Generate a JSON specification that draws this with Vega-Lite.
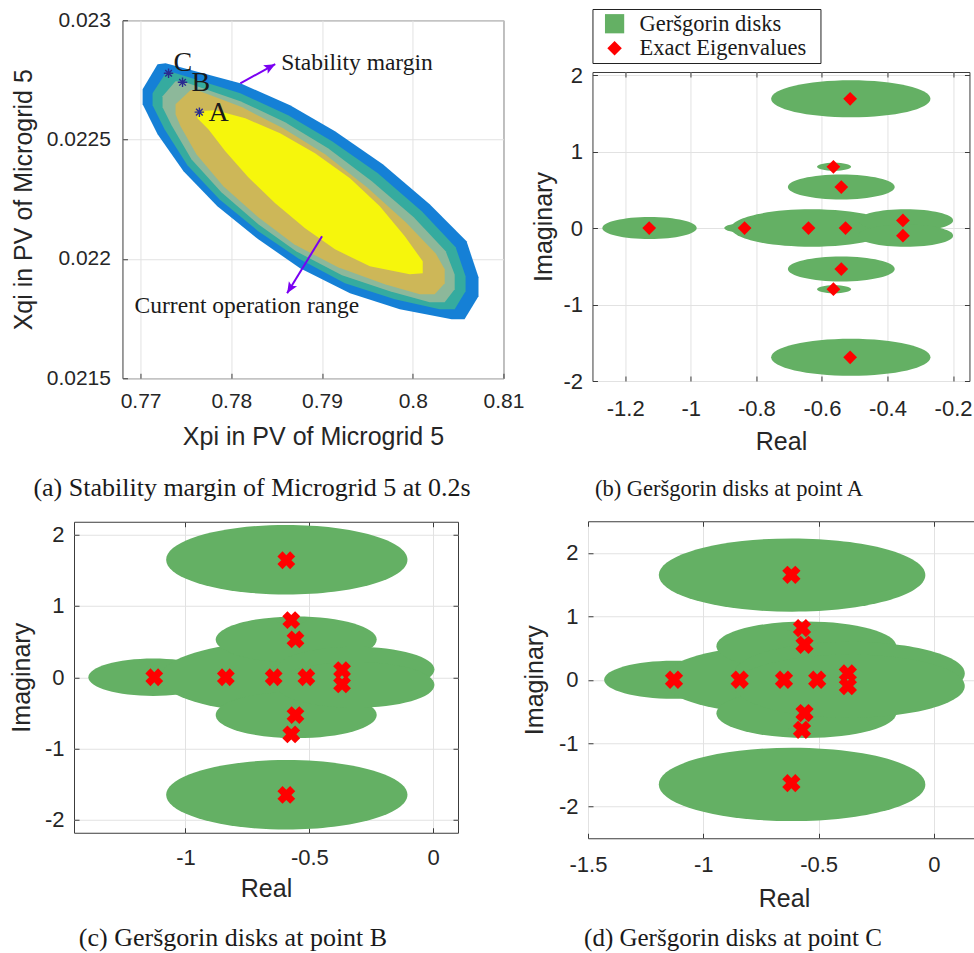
{
  "$schema": "https://vega.github.io/schema/vega-lite/v6.json",
  "padding": {"left": 8, "top": 8, "right": 0, "bottom": 0},
  "background": "white",
  "center": true,
  "spacing": 7,
  "resolve": {"scale": {"color": "independent", "size": "independent", "shape": "independent"}, "legend": {"color": "independent", "size": "independent", "shape": "independent"}},
  "config": {
    "font": "Liberation Sans",
    "view": {"stroke": "#3c3c3c", "strokeWidth": 1},
    "axis": {
      "domain": false, "grid": true, "gridColor": "#e2e2e2", "gridWidth": 1,
      "ticks": true, "tickColor": "#3c3c3c", "tickSize": -5,
      "labelFont": "Liberation Sans", "labelFontSize": 21, "labelColor": "#262626",
      "labelFlush": false, "labelOverlap": false,
      "titleFont": "Liberation Sans", "titleFontSize": 25, "titleFontWeight": "normal", "titleColor": "#262626"
    },
    "title": {"font": "Liberation Serif", "fontWeight": "normal", "color": "#1a1a1a", "orient": "bottom", "anchor": "middle"}
  },
  "vconcat": [
    {
      "center": true,
      "spacing": 6,
      "resolve": {"scale": {"color": "independent", "size": "independent", "shape": "independent"}, "legend": {"color": "independent", "size": "independent", "shape": "independent"}},
      "hconcat": [
        {
          "width": 381, "height": 358,
          "title": {"text": "(a) Stability margin of Microgrid 5 at 0.2s", "dx": -61, "offset": 26, "fontSize": 26},
          "resolve": {"axis": {"x": "independent", "y": "independent"}},
          "layer": [
            {
              "data": {"values": [
                {"region":"r1","i":1,"x":0.77022,"y":0.022711},{"region":"r1","i":2,"x":0.77187,"y":0.022816},{"region":"r1","i":3,"x":0.77275,"y":0.02282},{"region":"r1","i":4,"x":0.78099,"y":0.022736},{"region":"r1","i":5,"x":0.78648,"y":0.022644},{"region":"r1","i":6,"x":0.79143,"y":0.022535},{"region":"r1","i":7,"x":0.7967,"y":0.022397},{"region":"r1","i":8,"x":0.80187,"y":0.022229},{"region":"r1","i":9,"x":0.80593,"y":0.022074},{"region":"r1","i":10,"x":0.80725,"y":0.021923},{"region":"r1","i":11,"x":0.80725,"y":0.021844},{"region":"r1","i":12,"x":0.80571,"y":0.021747},{"region":"r1","i":13,"x":0.80429,"y":0.021747},{"region":"r1","i":14,"x":0.79857,"y":0.021789},{"region":"r1","i":15,"x":0.79308,"y":0.021856},{"region":"r1","i":16,"x":0.78758,"y":0.021961},{"region":"r1","i":17,"x":0.78297,"y":0.022082},{"region":"r1","i":18,"x":0.77846,"y":0.022221},{"region":"r1","i":19,"x":0.77473,"y":0.022367},{"region":"r1","i":20,"x":0.77187,"y":0.022522},{"region":"r1","i":21,"x":0.77022,"y":0.022648},
                {"region":"r2","i":1,"x":0.77132,"y":0.022694},{"region":"r2","i":2,"x":0.77275,"y":0.022778},{"region":"r2","i":3,"x":0.77352,"y":0.022782},{"region":"r2","i":4,"x":0.78099,"y":0.022694},{"region":"r2","i":5,"x":0.78626,"y":0.022602},{"region":"r2","i":6,"x":0.7911,"y":0.022493},{"region":"r2","i":7,"x":0.79615,"y":0.022359},{"region":"r2","i":8,"x":0.80099,"y":0.0222},{"region":"r2","i":9,"x":0.80473,"y":0.022049},{"region":"r2","i":10,"x":0.80582,"y":0.021927},{"region":"r2","i":11,"x":0.80582,"y":0.021865},{"region":"r2","i":12,"x":0.80462,"y":0.021789},{"region":"r2","i":13,"x":0.80297,"y":0.021789},{"region":"r2","i":14,"x":0.79802,"y":0.021831},{"region":"r2","i":15,"x":0.79253,"y":0.021898},{"region":"r2","i":16,"x":0.78736,"y":0.022003},{"region":"r2","i":17,"x":0.78297,"y":0.022116},{"region":"r2","i":18,"x":0.77868,"y":0.02225},{"region":"r2","i":19,"x":0.77516,"y":0.022392},{"region":"r2","i":20,"x":0.77264,"y":0.022543},{"region":"r2","i":21,"x":0.77132,"y":0.022644},
                {"region":"r3","i":1,"x":0.77242,"y":0.022682},{"region":"r3","i":2,"x":0.77385,"y":0.022744},{"region":"r3","i":3,"x":0.77462,"y":0.022744},{"region":"r3","i":4,"x":0.78099,"y":0.022661},{"region":"r3","i":5,"x":0.78593,"y":0.022573},{"region":"r3","i":6,"x":0.79066,"y":0.022464},{"region":"r3","i":7,"x":0.79549,"y":0.022325},{"region":"r3","i":8,"x":0.80011,"y":0.022175},{"region":"r3","i":9,"x":0.80363,"y":0.022032},{"region":"r3","i":10,"x":0.80462,"y":0.021935},{"region":"r3","i":11,"x":0.80462,"y":0.021873},{"region":"r3","i":12,"x":0.80352,"y":0.021818},{"region":"r3","i":13,"x":0.80187,"y":0.021818},{"region":"r3","i":14,"x":0.79747,"y":0.021865},{"region":"r3","i":15,"x":0.7922,"y":0.021932},{"region":"r3","i":16,"x":0.78714,"y":0.022032},{"region":"r3","i":17,"x":0.78297,"y":0.022145},{"region":"r3","i":18,"x":0.7789,"y":0.022279},{"region":"r3","i":19,"x":0.7756,"y":0.022418},{"region":"r3","i":20,"x":0.77341,"y":0.02256},{"region":"r3","i":21,"x":0.77242,"y":0.022635},
                {"region":"r4","i":1,"x":0.77385,"y":0.022648},{"region":"r4","i":2,"x":0.77549,"y":0.022707},{"region":"r4","i":3,"x":0.77626,"y":0.022707},{"region":"r4","i":4,"x":0.78121,"y":0.022635},{"region":"r4","i":5,"x":0.78571,"y":0.022547},{"region":"r4","i":6,"x":0.79033,"y":0.022439},{"region":"r4","i":7,"x":0.79495,"y":0.0223},{"region":"r4","i":8,"x":0.79923,"y":0.022154},{"region":"r4","i":9,"x":0.80253,"y":0.022023},{"region":"r4","i":10,"x":0.80352,"y":0.021957},{"region":"r4","i":11,"x":0.80352,"y":0.021898},{"region":"r4","i":12,"x":0.80242,"y":0.021852},{"region":"r4","i":13,"x":0.80077,"y":0.021852},{"region":"r4","i":14,"x":0.79692,"y":0.021894},{"region":"r4","i":15,"x":0.79176,"y":0.021965},{"region":"r4","i":16,"x":0.78692,"y":0.022061},{"region":"r4","i":17,"x":0.78297,"y":0.022175},{"region":"r4","i":18,"x":0.77912,"y":0.022304},{"region":"r4","i":19,"x":0.77615,"y":0.022439},{"region":"r4","i":20,"x":0.7744,"y":0.022556},{"region":"r4","i":21,"x":0.77385,"y":0.022606},
                {"region":"r5","i":1,"x":0.77626,"y":0.022589},{"region":"r5","i":2,"x":0.77626,"y":0.022619},{"region":"r5","i":3,"x":0.77824,"y":0.022623},{"region":"r5","i":4,"x":0.78154,"y":0.022589},{"region":"r5","i":5,"x":0.78538,"y":0.022527},{"region":"r5","i":6,"x":0.78923,"y":0.022443},{"region":"r5","i":7,"x":0.79308,"y":0.022338},{"region":"r5","i":8,"x":0.79637,"y":0.022221},{"region":"r5","i":9,"x":0.79912,"y":0.022095},{"region":"r5","i":10,"x":0.8011,"y":0.02199},{"region":"r5","i":11,"x":0.8011,"y":0.02194},{"region":"r5","i":12,"x":0.79967,"y":0.021936},{"region":"r5","i":13,"x":0.79527,"y":0.021969},{"region":"r5","i":14,"x":0.79143,"y":0.02204},{"region":"r5","i":15,"x":0.78813,"y":0.022128},{"region":"r5","i":16,"x":0.78484,"y":0.022233},{"region":"r5","i":17,"x":0.78187,"y":0.022342},{"region":"r5","i":18,"x":0.77934,"y":0.022451},{"region":"r5","i":19,"x":0.77747,"y":0.022543}
              ]},
              "mark": {"type": "line", "filled": true, "interpolate": "linear-closed", "strokeWidth": 0},
              "encoding": {
                "x": {"field": "x", "type": "quantitative", "scale": {"domain": [0.768, 0.81], "nice": false, "zero": false},
                      "axis": {"title": "Xpi in PV of Microgrid 5", "values": [0.77, 0.78, 0.79, 0.8, 0.81], "format": "~g", "labelPadding": 17, "titlePadding": 13}},
                "y": {"field": "y", "type": "quantitative", "scale": {"domain": [0.0215, 0.023], "nice": false, "zero": false},
                      "axis": {"title": "Xqi in PV of Microgrid 5", "values": [0.0215, 0.022, 0.0225, 0.023], "format": "~g", "labelPadding": 17, "titlePadding": 10}},
                "color": {"field": "region", "type": "nominal", "scale": {"domain": ["r1","r2","r3","r4","r5"], "range": ["#1580d6","#35ab9f","#8db89a","#cdb758","#f6f60c"]}, "legend": null},
                "order": {"field": "i", "type": "quantitative"}
              }
            },
            {
              "data": {"values": [
                {"name":"stab","x":0.78099,"y":0.022736,"x2":0.78484,"y2":0.022816},
                {"name":"curr","x":0.79,"y":0.022095,"x2":0.78615,"y2":0.021856}
              ]},
              "layer": [
                {
                  "mark": {"type": "rule", "color": "#7a00f2", "strokeWidth": 2},
                  "encoding": {
                    "x": {"field": "x", "type": "quantitative", "scale": {"domain": [0.768, 0.81], "nice": false, "zero": false}, "axis": null},
                    "y": {"field": "y", "type": "quantitative", "scale": {"domain": [0.0215, 0.023], "nice": false, "zero": false}, "axis": null},
                    "x2": {"field": "x2"},
                    "y2": {"field": "y2"}
                  }
                },
                {
                  "transform": [{"filter": "datum.name === 'stab'"}],
                  "mark": {"type": "point", "shape": "M0,0L0.6,1.4L0,1.1L-0.6,1.4Z", "filled": true, "opacity": 1, "color": "#7a00f2", "size": 256, "angle": 61.3, "strokeWidth": 0},
                  "encoding": {
                    "x": {"field": "x2", "type": "quantitative", "scale": {"domain": [0.768, 0.81], "nice": false, "zero": false}, "axis": null},
                    "y": {"field": "y2", "type": "quantitative", "scale": {"domain": [0.0215, 0.023], "nice": false, "zero": false}, "axis": null}
                  }
                },
                {
                  "transform": [{"filter": "datum.name === 'curr'"}],
                  "mark": {"type": "point", "shape": "M0,0L0.6,1.4L0,1.1L-0.6,1.4Z", "filled": true, "opacity": 1, "color": "#7a00f2", "size": 256, "angle": 211.5, "strokeWidth": 0},
                  "encoding": {
                    "x": {"field": "x2", "type": "quantitative", "scale": {"domain": [0.768, 0.81], "nice": false, "zero": false}, "axis": null},
                    "y": {"field": "y2", "type": "quantitative", "scale": {"domain": [0.0215, 0.023], "nice": false, "zero": false}, "axis": null}
                  }
                }
              ]
            },
            {
              "data": {"values": [
                {"label":"Stability margin","x":0.78549,"y":0.02282},
                {"label":"Current operation range","x":0.76934,"y":0.021802}
              ]},
              "mark": {"type": "text", "font": "Liberation Serif", "fontSize": 23.5, "align": "left", "baseline": "middle", "color": "#1a1a1a"},
              "encoding": {
                "x": {"field": "x", "type": "quantitative", "scale": {"domain": [0.768, 0.81], "nice": false, "zero": false}, "axis": null},
                "y": {"field": "y", "type": "quantitative", "scale": {"domain": [0.0215, 0.023], "nice": false, "zero": false}, "axis": null},
                "text": {"field": "label"}
              }
            },
            {
              "data": {"values": [
                {"pt":"C","x":0.77308,"y":0.022778},
                {"pt":"B","x":0.77462,"y":0.02274},
                {"pt":"A","x":0.77648,"y":0.022615}
              ]},
              "layer": [
                {
                  "mark": {"type": "point", "shape": "M0,-1L0,1M-1,0L1,0M-0.7,-0.7L0.7,0.7M-0.7,0.7L0.7,-0.7", "filled": false, "opacity": 1, "color": "#2a2a90", "strokeWidth": 1.4, "size": 90},
                  "encoding": {
                    "x": {"field": "x", "type": "quantitative", "scale": {"domain": [0.768, 0.81], "nice": false, "zero": false},
                          "axis": {"orient": "top", "labels": false, "title": null, "grid": false, "ticks": true, "tickSize": -5, "domain": false, "values": [0.77, 0.78, 0.79, 0.8, 0.81]}},
                    "y": {"field": "y", "type": "quantitative", "scale": {"domain": [0.0215, 0.023], "nice": false, "zero": false},
                          "axis": {"orient": "right", "labels": false, "title": null, "grid": false, "ticks": true, "tickSize": -5, "domain": false, "values": [0.0215, 0.022, 0.0225, 0.023]}}
                  }
                },
                {
                  "transform": [{"filter": "datum.pt !== 'C'"}],
                  "mark": {"type": "text", "font": "Liberation Serif", "fontSize": 28, "align": "left", "baseline": "middle", "dx": 9, "dy": 1, "color": "#1a1a1a"},
                  "encoding": {
                    "x": {"field": "x", "type": "quantitative", "scale": {"domain": [0.768, 0.81], "nice": false, "zero": false}, "axis": null},
                    "y": {"field": "y", "type": "quantitative", "scale": {"domain": [0.0215, 0.023], "nice": false, "zero": false}, "axis": null},
                    "text": {"field": "pt"}
                  }
                },
                {
                  "transform": [{"filter": "datum.pt === 'C'"}],
                  "mark": {"type": "text", "font": "Liberation Serif", "fontSize": 28, "align": "left", "baseline": "middle", "dx": 5, "dy": -10, "color": "#1a1a1a"},
                  "encoding": {
                    "x": {"field": "x", "type": "quantitative", "scale": {"domain": [0.768, 0.81], "nice": false, "zero": false}, "axis": null},
                    "y": {"field": "y", "type": "quantitative", "scale": {"domain": [0.0215, 0.023], "nice": false, "zero": false}, "axis": null},
                    "text": {"field": "pt"}
                  }
                }
              ]
            }
          ]
        },
        {
          "spacing": -1,
          "resolve": {"scale": {"color": "independent", "size": "independent", "shape": "independent"}, "legend": {"color": "independent", "size": "independent", "shape": "independent"}},
          "vconcat": [
            {
              "width": 228, "height": 54,
              "view": {"stroke": "#222222", "strokeWidth": 1},
              "data": {"values": [{"item": "Geršgorin disks"}, {"item": "Exact Eigenvalues"}]},
              "layer": [
                {
                  "transform": [{"filter": "datum.item === 'Geršgorin disks'"}],
                  "mark": {"type": "point", "shape": "square", "filled": true, "opacity": 1, "strokeWidth": 0, "size": 370, "color": "#64b064"},
                  "encoding": {
                    "x": {"datum": 0.97, "type": "quantitative", "scale": {"domain": [0, 10], "nice": false, "zero": false}, "axis": null},
                    "y": {"field": "item", "type": "nominal", "sort": ["Geršgorin disks", "Exact Eigenvalues"], "scale": {"type": "point", "padding": 0.6, "domain": ["Geršgorin disks", "Exact Eigenvalues"]}, "axis": null}
                  }
                },
                {
                  "transform": [{"filter": "datum.item === 'Exact Eigenvalues'"}],
                  "mark": {"type": "point", "shape": "diamond", "filled": true, "opacity": 1, "strokeWidth": 0, "size": 210, "color": "#ff0000"},
                  "encoding": {
                    "x": {"datum": 0.97, "type": "quantitative", "scale": {"domain": [0, 10], "nice": false, "zero": false}, "axis": null},
                    "y": {"field": "item", "type": "nominal", "sort": ["Geršgorin disks", "Exact Eigenvalues"], "scale": {"type": "point", "padding": 0.6, "domain": ["Geršgorin disks", "Exact Eigenvalues"]}, "axis": null}
                  }
                },
                {
                  "mark": {"type": "text", "align": "left", "baseline": "middle", "font": "Liberation Serif", "fontSize": 22.5, "color": "#1a1a1a"},
                  "encoding": {
                    "x": {"datum": 2.06, "type": "quantitative", "scale": {"domain": [0, 10], "nice": false, "zero": false}, "axis": null},
                    "y": {"field": "item", "type": "nominal", "sort": ["Geršgorin disks", "Exact Eigenvalues"], "scale": {"type": "point", "padding": 0.6, "domain": ["Geršgorin disks", "Exact Eigenvalues"]}, "axis": null},
                    "text": {"field": "item"}
                  }
                }
              ]
            },
            {
              "width": 377, "height": 309,
              "title": {"text": "(b) Geršgorin disks at point A", "dx": -52, "offset": 24, "fontSize": 22.5, "subtitle": " ", "subtitleFontSize": 10, "subtitlePadding": 2},
              "resolve": {"axis": {"x": "independent", "y": "independent"}},
              "layer": [
                {
                  "data": {"values": [
                    {"x":-0.512,"y":1.69,"r":0.243},{"x":-0.512,"y":-1.69,"r":0.243},
                    {"x":-0.563,"y":0.8,"r":0.052},{"x":-0.563,"y":-0.8,"r":0.052},
                    {"x":-0.541,"y":0.536,"r":0.163},{"x":-0.541,"y":-0.536,"r":0.163},
                    {"x":-1.126,"y":0,"r":0.144},{"x":-0.836,"y":0,"r":0.062},
                    {"x":-0.632,"y":0,"r":0.245},
                    {"x":-0.345,"y":0.1,"r":0.145},{"x":-0.345,"y":-0.1,"r":0.145}
                  ]},
                  "mark": {"type": "point", "shape": "M-1,0C-1,-0.1289,-0.5523,-0.2333,0,-0.2333C0.5523,-0.2333,1,-0.1289,1,0C1,0.1289,0.5523,0.2333,0,0.2333C-0.5523,0.2333,-1,0.1289,-1,0Z", "filled": true, "opacity": 1, "strokeWidth": 0, "color": "#64b064"},
                  "encoding": {
                    "x": {"field": "x", "type": "quantitative", "scale": {"domain": [-1.3, -0.15], "nice": false, "zero": false},
                          "axis": {"title": "Real", "values": [-1.2, -1, -0.8, -0.6, -0.4, -0.2], "format": "~g", "labelExpr": "replace(datum.label, '\u2212', '-')", "labelFontSize": 22, "labelPadding": 22, "titlePadding": 10}},
                    "y": {"field": "y", "type": "quantitative", "scale": {"domain": [-2, 2.04], "nice": false, "zero": false},
                          "axis": {"title": "Imaginary", "values": [-2, -1, 0, 1, 2], "format": "~g", "labelExpr": "replace(datum.label, '\u2212', '-')", "labelFontSize": 22, "labelPadding": 15, "titlePadding": 6}},
                    "size": {"field": "r", "type": "quantitative", "scale": {"type": "pow", "exponent": 2, "domain": [0, 1], "range": [0, 429879]}, "legend": null}
                  }
                },
                {
                  "data": {"values": [
                    {"x":-0.514,"y":1.69},{"x":-0.514,"y":-1.69},
                    {"x":-0.565,"y":0.8},{"x":-0.565,"y":-0.8},
                    {"x":-0.541,"y":0.536},{"x":-0.541,"y":-0.536},
                    {"x":-1.127,"y":0},{"x":-0.836,"y":0},{"x":-0.641,"y":0},{"x":-0.528,"y":0},
                    {"x":-0.353,"y":0.1},{"x":-0.353,"y":-0.1}
                  ]},
                  "mark": {"type": "point", "shape": "diamond", "filled": true, "opacity": 1, "size": 190, "strokeWidth": 0, "color": "#ff0000"},
                  "encoding": {
                    "x": {"field": "x", "type": "quantitative", "scale": {"domain": [-1.3, -0.15], "nice": false, "zero": false},
                          "axis": {"orient": "top", "labels": false, "title": null, "grid": false, "ticks": true, "tickSize": -5, "domain": false, "values": [-1.2, -1, -0.8, -0.6, -0.4, -0.2]}},
                    "y": {"field": "y", "type": "quantitative", "scale": {"domain": [-2, 2.04], "nice": false, "zero": false},
                          "axis": {"orient": "right", "labels": false, "title": null, "grid": false, "ticks": true, "tickSize": -5, "domain": false, "values": [-2, -1, 0, 1, 2]}}
                  }
                }
              ]
            }
          ]
        }
      ]
    },
    {
      "center": true,
      "spacing": 62,
      "resolve": {"scale": {"color": "independent", "size": "independent", "shape": "independent"}, "legend": {"color": "independent", "size": "independent", "shape": "independent"}},
      "hconcat": [
        {
          "width": 384, "height": 311,
          "title": {"text": "(c) Geršgorin disks at point B", "dx": -33, "offset": 23, "fontSize": 26},
          "resolve": {"axis": {"x": "independent", "y": "independent"}},
          "layer": [
            {
              "data": {"values": [
                {"x":-0.591,"y":1.648,"r":0.487},{"x":-0.591,"y":-1.648,"r":0.487},
                {"x":-1.13,"y":0,"r":0.262},
                {"x":-0.6,"y":0,"r":0.5},
                {"x":-0.553,"y":0.528,"r":0.325},{"x":-0.553,"y":-0.528,"r":0.325},
                {"x":-0.573,"y":0.798,"r":0.06},{"x":-0.573,"y":-0.798,"r":0.06},
                {"x":-0.315,"y":0.107,"r":0.32},{"x":-0.315,"y":-0.107,"r":0.32}
              ]},
              "mark": {"type": "point", "shape": "M-1,0C-1,-0.159,-0.5523,-0.2879,0,-0.2879C0.5523,-0.2879,1,-0.159,1,0C1,0.159,0.5523,0.2879,0,0.2879C-0.5523,0.2879,-1,0.159,-1,0Z", "filled": true, "opacity": 1, "strokeWidth": 0, "color": "#64b064"},
              "encoding": {
                "x": {"field": "x", "type": "quantitative", "scale": {"domain": [-1.45, 0.1], "nice": false, "zero": false},
                      "axis": {"title": "Real", "values": [-1, -0.5, 0], "format": "~g", "labelExpr": "replace(datum.label, '\u2212', '-')", "labelFontSize": 22, "labelPadding": 20, "titlePadding": 8}},
                "y": {"field": "y", "type": "quantitative", "scale": {"domain": [-2.18, 2.18], "nice": false, "zero": false},
                      "axis": {"title": "Imaginary", "values": [-2, -1, 0, 1, 2], "format": "~g", "labelExpr": "replace(datum.label, '\u2212', '-')", "labelFontSize": 22, "labelPadding": 15, "titlePadding": 10}},
                "size": {"field": "r", "type": "quantitative", "scale": {"type": "pow", "exponent": 2, "domain": [0, 1], "range": [0, 245504]}, "legend": null}
              }
            },
            {
              "data": {"values": [
                {"x":-0.593,"y":1.64},{"x":-0.593,"y":-1.65},
                {"x":-0.573,"y":0.8},{"x":-0.573,"y":-0.8},
                {"x":-0.556,"y":0.53},{"x":-0.556,"y":-0.53},
                {"x":-1.126,"y":0},{"x":-0.837,"y":0},{"x":-0.644,"y":0},{"x":-0.512,"y":0},
                {"x":-0.368,"y":0.1},{"x":-0.368,"y":-0.1}
              ]},
              "mark": {"type": "point", "shape": "cross", "angle": 45, "filled": true, "opacity": 1, "size": 324, "strokeWidth": 0, "color": "#ff0000"},
              "encoding": {
                "x": {"field": "x", "type": "quantitative", "scale": {"domain": [-1.45, 0.1], "nice": false, "zero": false},
                      "axis": {"orient": "top", "labels": false, "title": null, "grid": false, "ticks": true, "tickSize": -5, "domain": false, "values": [-1, -0.5, 0]}},
                "y": {"field": "y", "type": "quantitative", "scale": {"domain": [-2.18, 2.18], "nice": false, "zero": false},
                      "axis": {"orient": "right", "labels": false, "title": null, "grid": false, "ticks": true, "tickSize": -5, "domain": false, "values": [-2, -1, 0, 1, 2]}}
              }
            }
          ]
        },
        {
          "width": 432, "height": 317,
          "title": {"text": "(d) Geršgorin disks at point C", "dx": -71, "offset": 15, "fontSize": 25},
          "resolve": {"axis": {"x": "independent", "y": "independent"}},
          "layer": [
            {
              "data": {"values": [
                {"x":-0.615,"y":1.651,"r":0.578},{"x":-0.615,"y":-1.651,"r":0.578},
                {"x":-1.13,"y":0,"r":0.3},
                {"x":-0.63,"y":0,"r":0.55},
                {"x":-0.553,"y":0.53,"r":0.39},{"x":-0.553,"y":-0.53,"r":0.39},
                {"x":-0.572,"y":0.815,"r":0.07},{"x":-0.572,"y":-0.815,"r":0.07},
                {"x":-0.366,"y":0.1,"r":0.5},{"x":-0.366,"y":-0.1,"r":0.5}
              ]},
              "mark": {"type": "point", "shape": "M-1,0C-1,-0.1518,-0.5523,-0.2749,0,-0.2749C0.5523,-0.2749,1,-0.1518,1,0C1,0.1518,0.5523,0.2749,0,0.2749C-0.5523,0.2749,-1,0.1518,-1,0Z", "filled": true, "opacity": 1, "strokeWidth": 0, "color": "#64b064"},
              "encoding": {
                "x": {"field": "x", "type": "quantitative", "scale": {"domain": [-1.5, 0.3735], "nice": false, "zero": false},
                      "axis": {"title": "Real", "titleX": 196, "values": [-1.5, -1, -0.5, 0], "format": "~g", "labelExpr": "replace(datum.label, '\u2212', '-')", "labelFontSize": 22, "labelPadding": 21, "titlePadding": 11}},
                "y": {"field": "y", "type": "quantitative", "scale": {"domain": [-2.5, 2.5], "nice": false, "zero": false},
                      "axis": {"title": "Imaginary", "values": [-2, -1, 0, 1, 2], "format": "~g", "labelExpr": "replace(datum.label, '\u2212', '-')", "labelFontSize": 22, "labelPadding": 15, "titlePadding": 11}},
                "size": {"field": "r", "type": "quantitative", "scale": {"type": "pow", "exponent": 2, "domain": [0, 1], "range": [0, 212683]}, "legend": null}
              }
            },
            {
              "data": {"values": [
                {"x":-0.618,"y":1.656},{"x":-0.618,"y":-1.63},
                {"x":-0.572,"y":0.815},{"x":-0.572,"y":-0.79},
                {"x":-0.561,"y":0.552},{"x":-0.561,"y":-0.525},
                {"x":-1.127,"y":0},{"x":-0.842,"y":0},{"x":-0.65,"y":0},{"x":-0.506,"y":0},
                {"x":-0.373,"y":0.1},{"x":-0.373,"y":-0.1}
              ]},
              "mark": {"type": "point", "shape": "cross", "angle": 45, "filled": true, "opacity": 1, "size": 340, "strokeWidth": 0, "color": "#ff0000"},
              "encoding": {
                "x": {"field": "x", "type": "quantitative", "scale": {"domain": [-1.5, 0.3735], "nice": false, "zero": false},
                      "axis": {"orient": "top", "labels": false, "title": null, "grid": false, "ticks": true, "tickSize": -5, "domain": false, "values": [-1.5, -1, -0.5, 0]}},
                "y": {"field": "y", "type": "quantitative", "scale": {"domain": [-2.5, 2.5], "nice": false, "zero": false},
                      "axis": {"orient": "right", "labels": false, "title": null, "grid": false, "ticks": true, "tickSize": -5, "domain": false, "values": [-2, -1, 0, 1, 2]}}
              }
            }
          ]
        }
      ]
    }
  ]
}
